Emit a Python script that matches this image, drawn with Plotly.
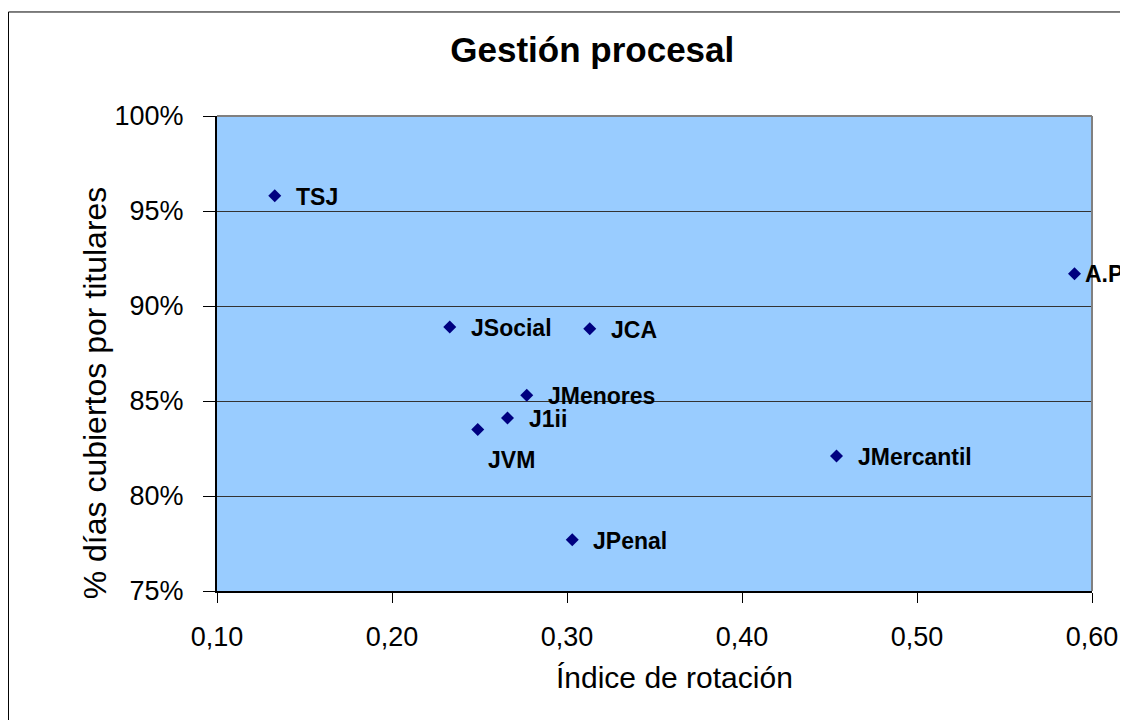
import plotly.graph_objects as go

# Datos: índice de rotación vs % días cubiertos por titulares
organos = ['TSJ', 'A.P.', 'JSocial', 'JCA', 'JMenores', 'J1ii', 'JVM', 'JMercantil', 'JPenal']
rotacion = [0.133, 0.590, 0.233, 0.313, 0.277, 0.266, 0.249, 0.454, 0.303]
cobertura = [0.958, 0.917, 0.889, 0.888, 0.853, 0.841, 0.835, 0.821, 0.777]

x_ticks = [0.1, 0.2, 0.3, 0.4, 0.5, 0.6]
x_labels = ['0,10', '0,20', '0,30', '0,40', '0,50', '0,60']
y_ticks = [0.75, 0.80, 0.85, 0.90, 0.95, 1.00]
y_labels = ['75%', '80%', '85%', '90%', '95%', '100%']

# desplazamiento de etiquetas (px)
label_shift = {'A.P.': (8, 0), 'JVM': (8, -30)}

fig = go.Figure()
fig.add_trace(go.Scatter(
    x=rotacion, y=cobertura, mode='markers',
    marker=dict(symbol='diamond', size=10, color='#000080'),
    cliponaxis=False, showlegend=False,
))

for name, xv, yv in zip(organos, rotacion, cobertura):
    dx, dy = label_shift.get(name, (19, -1))
    fig.add_annotation(
        x=xv, y=yv, text=name, showarrow=False, xanchor='left',
        xshift=dx, yshift=dy,
        font=dict(family='Liberation Sans', size=23, color='black', weight='bold'),
    )

fig.update_layout(
    width=1128, height=720,
    margin=dict(l=209, r=44, t=108, b=137),
    paper_bgcolor='white', plot_bgcolor='#99CCFF',
    title=dict(text='<b>Gestión procesal</b>', x=0.518, xanchor='center', y=0.942,
               yanchor='middle',
               font=dict(family='Liberation Sans', size=35, color='black')),
    font=dict(family='Liberation Sans', color='black'),
)
fig.update_xaxes(
    range=[0.1, 0.6], tickvals=x_ticks, ticktext=x_labels,
    showgrid=False, zeroline=False, showline=True, linecolor='black', linewidth=2,
    ticks='outside', ticklen=10, tickcolor='black', tickwidth=1,
    tickfont=dict(size=27), ticklabelstandoff=11,
)
fig.update_yaxes(
    range=[0.75, 1.0], tickvals=y_ticks, ticktext=y_labels,
    showgrid=True, gridcolor='#333333', gridwidth=1, zeroline=False,
    showline=True, linecolor='black', linewidth=2,
    ticks='outside', ticklen=12, tickcolor='black', tickwidth=1,
    tickfont=dict(size=27), ticklabelstandoff=14,
)

# borde gris superior/derecho del área de trazado
fig.add_shape(type='line', xref='paper', yref='paper', x0=0, x1=1, y0=1, y1=1,
              line=dict(color='#808080', width=2))
fig.add_shape(type='line', xref='paper', yref='paper', x0=1, x1=1, y0=0, y1=1,
              line=dict(color='#808080', width=2))
# borde exterior del gráfico
fig.add_shape(type='rect', xref='paper', yref='paper',
              x0=-0.2383, x1=1.08, y0=-0.35, y1=1.219,
              line=dict(color='black', width=1), fillcolor='rgba(0,0,0,0)', layer='below')

fig.add_annotation(text='Índice de rotación', xref='paper', yref='paper', x=0.523, y=-0.183,
                   showarrow=False, font=dict(size=30), yanchor='middle')
fig.add_annotation(text='% días cubiertos por titulares', xref='paper', yref='paper',
                   x=-0.139, y=0.417, textangle=-90, showarrow=False, font=dict(size=32),
                   xanchor='center', yanchor='middle')

fig.write_html('out.html')
